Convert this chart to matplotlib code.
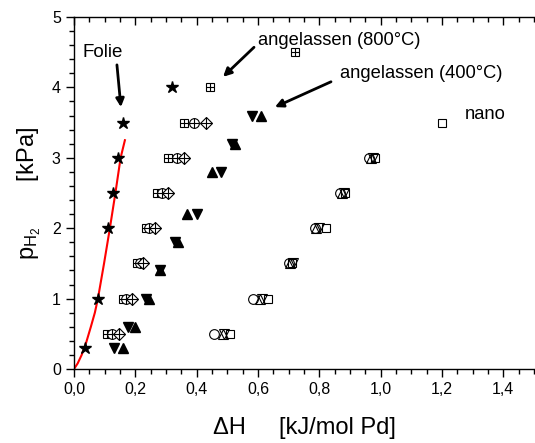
import numpy as np
import matplotlib.pyplot as plt
from matplotlib.ticker import MultipleLocator, FixedLocator

plt.rcParams['font.family'] = 'Liberation Sans'
plt.rcParams['mathtext.fontset'] = 'custom'
plt.rcParams['mathtext.rm'] = 'Liberation Sans'
plt.rcParams['mathtext.it'] = 'Liberation Sans'

# Folie (stars) and model curve
folie_x = [0.036, 0.077, 0.11, 0.128, 0.144, 0.16, 0.32]
folie_y = [0.3, 1.0, 2.0, 2.5, 3.0, 3.5, 4.0]
curve_x = [0.0, 0.012, 0.025, 0.04, 0.055, 0.068, 0.078, 0.098, 0.117, 0.135, 0.152, 0.166]
curve_y = [0.0, 0.08, 0.2, 0.38, 0.6, 0.8, 1.0, 1.5, 2.0, 2.5, 3.0, 3.25]

# angelassen (400°C): filled triangles
tri_y = [0.3, 0.6, 1.0, 1.4, 1.8, 2.2, 2.8, 3.2, 3.6]
tri_dn_x = [0.13, 0.175, 0.235, 0.28, 0.33, 0.40, 0.48, 0.515, 0.58]
tri_up_x = [0.16, 0.20, 0.245, 0.28, 0.34, 0.37, 0.45, 0.525, 0.61]

# angelassen (800°C): open symbols with cross
a8_y = [0.5, 1.0, 1.5, 2.0, 2.5, 3.0, 3.5, 4.0, 4.5]
a8_sq_x = [0.107, 0.16, 0.205, 0.235, 0.27, 0.305, 0.36, 0.445, 0.72]
a8c_y = [0.5, 1.0, 1.5, 2.0, 2.5, 3.0, 3.5]
a8_ci_x = [0.125, 0.17, 0.215, 0.245, 0.287, 0.335, 0.39]
a8_di_x = [0.147, 0.19, 0.225, 0.265, 0.307, 0.36, 0.43]

# nano: open symbols
nano_y = [0.5, 1.0, 1.5, 2.0, 2.5, 3.0]
nano_ci_x = [0.457, 0.585, 0.70, 0.785, 0.868, 0.962]
nano_up_x = [0.485, 0.608, 0.703, 0.79, 0.875, 0.968]
nano_dn_x = [0.49, 0.612, 0.715, 0.80, 0.88, 0.975]
nano_sq_y = [0.5, 1.0, 1.5, 2.0, 2.5, 3.0, 3.5]
nano_sq_x = [0.51, 0.632, 0.712, 0.822, 0.885, 0.982, 1.20]

xticks = [0.0, 0.2, 0.4, 0.6, 0.8, 1.0, 1.2, 1.4]
xticklabels = ['0,0', '0,2', '0,4', '0,6', '0,8', '1,0', '1,2', '1,4']

fig = plt.figure(figsize=(5.35, 4.43), dpi=100)
ax = fig.add_axes([74/535, 74/443, 460/535, 352/443])

ax.plot(curve_x, curve_y, color='red', lw=1.5, zorder=2)
ax.plot(folie_x, folie_y, ls='none', marker='*', ms=9, color='black', zorder=3)

ax.plot(tri_dn_x, tri_y, ls='none', marker='v', ms=7, color='black')
ax.plot(tri_up_x, tri_y, ls='none', marker='^', ms=7, color='black')

opn = dict(ls='none', mfc='white', mec='black', mew=0.8)
ax.plot(a8_sq_x, a8_y, marker='s', ms=6, **opn)
ax.plot(a8_sq_x, a8_y, ls='none', marker='+', ms=6, mew=0.8, color='black')
ax.plot(a8_ci_x, a8c_y, marker='o', ms=7, **opn)
ax.plot(a8_ci_x, a8c_y, ls='none', marker='+', ms=7, mew=0.8, color='black')
ax.plot(a8_di_x, a8c_y, marker='D', ms=6, **opn)
ax.plot(a8_di_x, a8c_y, ls='none', marker='+', ms=9, mew=0.8, color='black')

nopn = dict(ls='none', mfc='none', mec='black', mew=0.8)
ax.plot(nano_ci_x, nano_y, marker='o', ms=7, **nopn)
ax.plot(nano_up_x, nano_y, marker='^', ms=7, **nopn)
ax.plot(nano_dn_x, nano_y, marker='v', ms=7, **nopn)
ax.plot(nano_sq_x, nano_sq_y, marker='s', ms=6, **nopn)

arrow = dict(arrowstyle='-|>', color='black', lw=2, mutation_scale=12,
             shrinkA=0, shrinkB=0)
ax.text(0.095, 4.5, 'Folie', fontsize=13.5, ha='center', va='center')
ax.annotate('', xy=(0.153, 3.72), xytext=(0.14, 4.32), arrowprops=arrow)
ax.text(0.60, 4.67, 'angelassen (800°C)', fontsize=13.2, ha='left', va='center')
ax.annotate('', xy=(0.486, 4.15), xytext=(0.587, 4.57), arrowprops=arrow)
ax.text(0.867, 4.2, 'angelassen (400°C)', fontsize=13.2, ha='left', va='center')
ax.annotate('', xy=(0.655, 3.72), xytext=(0.838, 4.08), arrowprops=arrow)
ax.text(1.275, 3.61, 'nano', fontsize=13.2, ha='left', va='center')

ax.set_xlim(0, 1.5)
ax.set_ylim(0, 5)
ax.xaxis.set_major_locator(FixedLocator(xticks))
ax.set_xticklabels(xticklabels)
ax.xaxis.set_minor_locator(MultipleLocator(0.05))
ax.yaxis.set_major_locator(MultipleLocator(1))
ax.yaxis.set_minor_locator(MultipleLocator(0.2))
ax.tick_params(which='both', direction='out', labelsize=11.5)
ax.tick_params(which='major', length=6, width=1)
ax.tick_params(which='minor', length=3.5, width=1)
ax.spines['right'].set_visible(False)
ax.spines['top'].set_visible(False)
for s in ['left', 'bottom']:
    ax.spines[s].set_linewidth(1)

# top axis with inward ticks, no labels
top = ax.secondary_xaxis('top')
top.xaxis.set_major_locator(FixedLocator(xticks))
top.xaxis.set_minor_locator(MultipleLocator(0.05))
top.tick_params(which='both', direction='in', labeltop=False, width=1)
top.tick_params(which='major', length=6)
top.tick_params(which='minor', length=3.5)
top.spines['top'].set_linewidth(1)

ax.set_xlabel('ΔH     [kJ/mol Pd]', fontsize=17, labelpad=14)
ax.set_ylabel(r'p$_{\mathrm{H_2}}$       [kPa]', fontsize=17, labelpad=6)

fig.savefig('out.png', dpi=100)
